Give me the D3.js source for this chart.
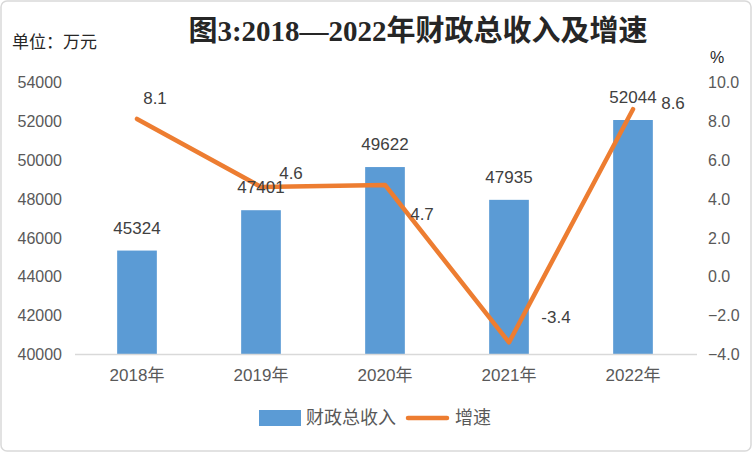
<!DOCTYPE html>
<html><head><meta charset="utf-8">
<script src="https://cdn.jsdelivr.net/npm/d3@7"></script>
<style>body{margin:0;background:#fff}svg{display:block}</style>
</head><body>
<svg id="c" width="752" height="452"></svg>
<script>
const categories = ["2018年","2019年","2020年","2021年","2022年"];
const revenue = [45324, 47401, 49622, 47935, 52044];
const growth = [8.1, 4.6, 4.7, -3.4, 8.6];
const leftTicks = [40000,42000,44000,46000,48000,50000,52000,54000];
const rightTicks = [-4,-2,0,2,4,6,8,10];
const growthLabelOffsets = [[18,-21],[30,-14],[37,29],[47,-25],[40,-6]];

const svg = d3.select("#c");
const font = "'Liberation Sans','Noto Sans CJK SC',sans-serif";
const cjk = "'Noto Sans CJK SC',sans-serif";
svg.append("rect").attr("x",1).attr("y",1).attr("width",750).attr("height",450)
  .attr("rx",6).attr("fill","#fff").attr("stroke","#d9d9d9").attr("stroke-width",1.5);

const x = d3.scaleBand().domain(categories).range([75,695]).paddingInner(0.68).paddingOuter(0.34);
const yL = d3.scaleLinear().domain([40000,54000]).range([354,82]);
const yR = d3.scaleLinear().domain([-4,10]).range([354,82]);

// bars
svg.selectAll("rect.bar").data(revenue).enter().append("rect").attr("class","bar")
  .attr("x",(d,i)=>x(categories[i])).attr("width",x.bandwidth())
  .attr("y",d=>yL(d)).attr("height",d=>yL(40000)-yL(d)).attr("fill","#5B9BD5");

// x axis line
svg.append("line").attr("x1",75).attr("x2",697).attr("y1",354.5).attr("y2",354.5)
  .attr("stroke","#d9d9d9").attr("stroke-width",1.5);

// left axis
const axL = d3.axisLeft(yL).tickValues(leftTicks).tickSize(0).tickPadding(0).tickFormat(d3.format("d"));
const gL = svg.append("g").attr("transform","translate(62,0)").call(axL);
gL.select(".domain").remove();
gL.selectAll("text").attr("font-family",font).attr("font-size",16).attr("fill","#595959").attr("dy","0.35em");

// right axis
const axR = d3.axisRight(yR).tickValues(rightTicks).tickSize(0).tickPadding(0).tickFormat(d3.format(".1f"));
const gR = svg.append("g").attr("transform","translate(708,0)").call(axR);
gR.select(".domain").remove();
gR.selectAll("text").attr("font-family",font).attr("font-size",16).attr("fill","#595959").attr("dy","0.35em");

// x axis labels
const axB = d3.axisBottom(x).tickSize(0).tickPadding(0);
const gB = svg.append("g").attr("transform","translate(0,369)").call(axB);
gB.select(".domain").remove();
gB.selectAll("text").attr("font-family",font).attr("font-size",17).attr("fill","#595959").attr("dy","0.71em");

// line
const line = d3.line().x((d,i)=>x(categories[i])+x.bandwidth()/2).y(d=>yR(d));
svg.append("path").datum(growth).attr("d",line).attr("fill","none")
  .attr("stroke","#ED7D31").attr("stroke-width",4.5).attr("stroke-linejoin","round").attr("stroke-linecap","round");

// bar labels
svg.selectAll("text.bl").data(revenue).enter().append("text").attr("class","bl")
  .attr("x",(d,i)=>x(categories[i])+x.bandwidth()/2).attr("y",d=>yL(d)-23)
  .attr("text-anchor","middle").attr("dy","0.35em").attr("font-family",font).attr("font-size",17).attr("fill","#404040")
  .text(d=>d);

// growth labels
svg.selectAll("text.gl").data(growth).enter().append("text").attr("class","gl")
  .attr("x",(d,i)=>x(categories[i])+x.bandwidth()/2+growthLabelOffsets[i][0])
  .attr("y",(d,i)=>yR(d)+growthLabelOffsets[i][1])
  .attr("text-anchor","middle").attr("dy","0.35em").attr("font-family",font).attr("font-size",17).attr("fill","#404040")
  .text(d=>d.toFixed(1));

// title
svg.append("text").attr("x",418).attr("y",41).attr("text-anchor","middle")
  .attr("font-family","'Liberation Serif','Noto Sans CJK SC',serif").attr("font-weight","bold")
  .attr("font-size",29).attr("fill","#262626").text("图3:2018—2022年财政总收入及增速");
svg.append("text").attr("x",12).attr("y",48).attr("font-family",cjk)
  .attr("font-size",17).attr("fill","#262626").text("单位：万元");
svg.append("text").attr("x",717).attr("y",63).attr("text-anchor","middle").attr("font-family",font)
  .attr("font-size",16).attr("fill","#262626").text("%");

// legend
svg.append("rect").attr("x",259).attr("y",410).attr("width",42).attr("height",16).attr("fill","#5B9BD5");
svg.append("text").attr("x",306).attr("y",418).attr("dy","0.35em").attr("font-family",cjk)
  .attr("font-size",18).attr("fill","#595959").text("财政总收入");
svg.append("line").attr("x1",408).attr("x2",447).attr("y1",418).attr("y2",418)
  .attr("stroke","#ED7D31").attr("stroke-width",4.5).attr("stroke-linecap","round");
svg.append("text").attr("x",455).attr("y",418).attr("dy","0.35em").attr("font-family",cjk)
  .attr("font-size",18).attr("fill","#595959").text("增速");
</script>
</body></html>
